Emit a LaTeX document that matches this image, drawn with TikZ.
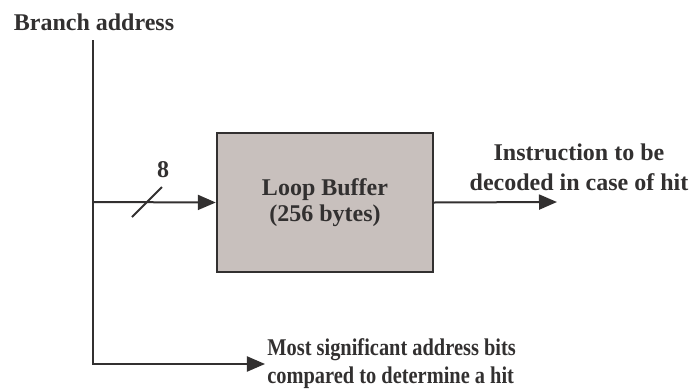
\documentclass[tikz,border=0pt]{standalone}
\usepackage{fontspec}
\setmainfont{Liberation Serif}
\usetikzlibrary{arrows.meta}
\definecolor{linegray}{RGB}{50,48,48}
\definecolor{boxgray}{RGB}{200,192,189}
\begin{document}
\begin{tikzpicture}[x=0.5pt,y=-0.5pt,
    every node/.style={font=\fontsize{12}{14}\selectfont\bfseries,text=linegray},
    wire/.style={line width=1pt,draw=linegray},
    flow/.style={wire,-{Triangle[length=9pt,width=7.5pt]}},
    bufferbox/.style={draw=linegray,line width=1.2pt,fill=boxgray,minimum width=108pt,minimum height=69.5pt,align=center}]

    \useasboundingbox (0,0) rectangle (693,392);

    \node (branch) at (94,22) {Branch address};
    \node[bufferbox] (buffer) at (325,202.5) {Loop Buffer\\[-1pt](256 bytes)};
    \node[align=center,font=\fontsize{12}{15}\selectfont\bfseries] (instr) at (579,167) {Instruction to be\\decoded in case of hit};
    \node[anchor=west,align=left,inner sep=1pt,
        font=\fontsize{12}{14}\selectfont\bfseries\addfontfeature{FakeStretch=0.85}] (msb) at (265,364) {Most significant address bits\\compared to determine a hit};

    \coordinate (top) at (93,40);
    \coordinate (tap) at (93,202);
    \coordinate (outend) at (557,202);

    % address path
    \draw[wire] (top)--(tap);
    \draw[flow] (tap)--(buffer.west);
    \draw[flow] (top) |- (msb.west);
    \draw[flow] (buffer.east)--(outend);

    % bus width
    \draw[wire] (132,217)--(162,187);
    \node (width) at (163,170) {8};
\end{tikzpicture}
\end{document}
